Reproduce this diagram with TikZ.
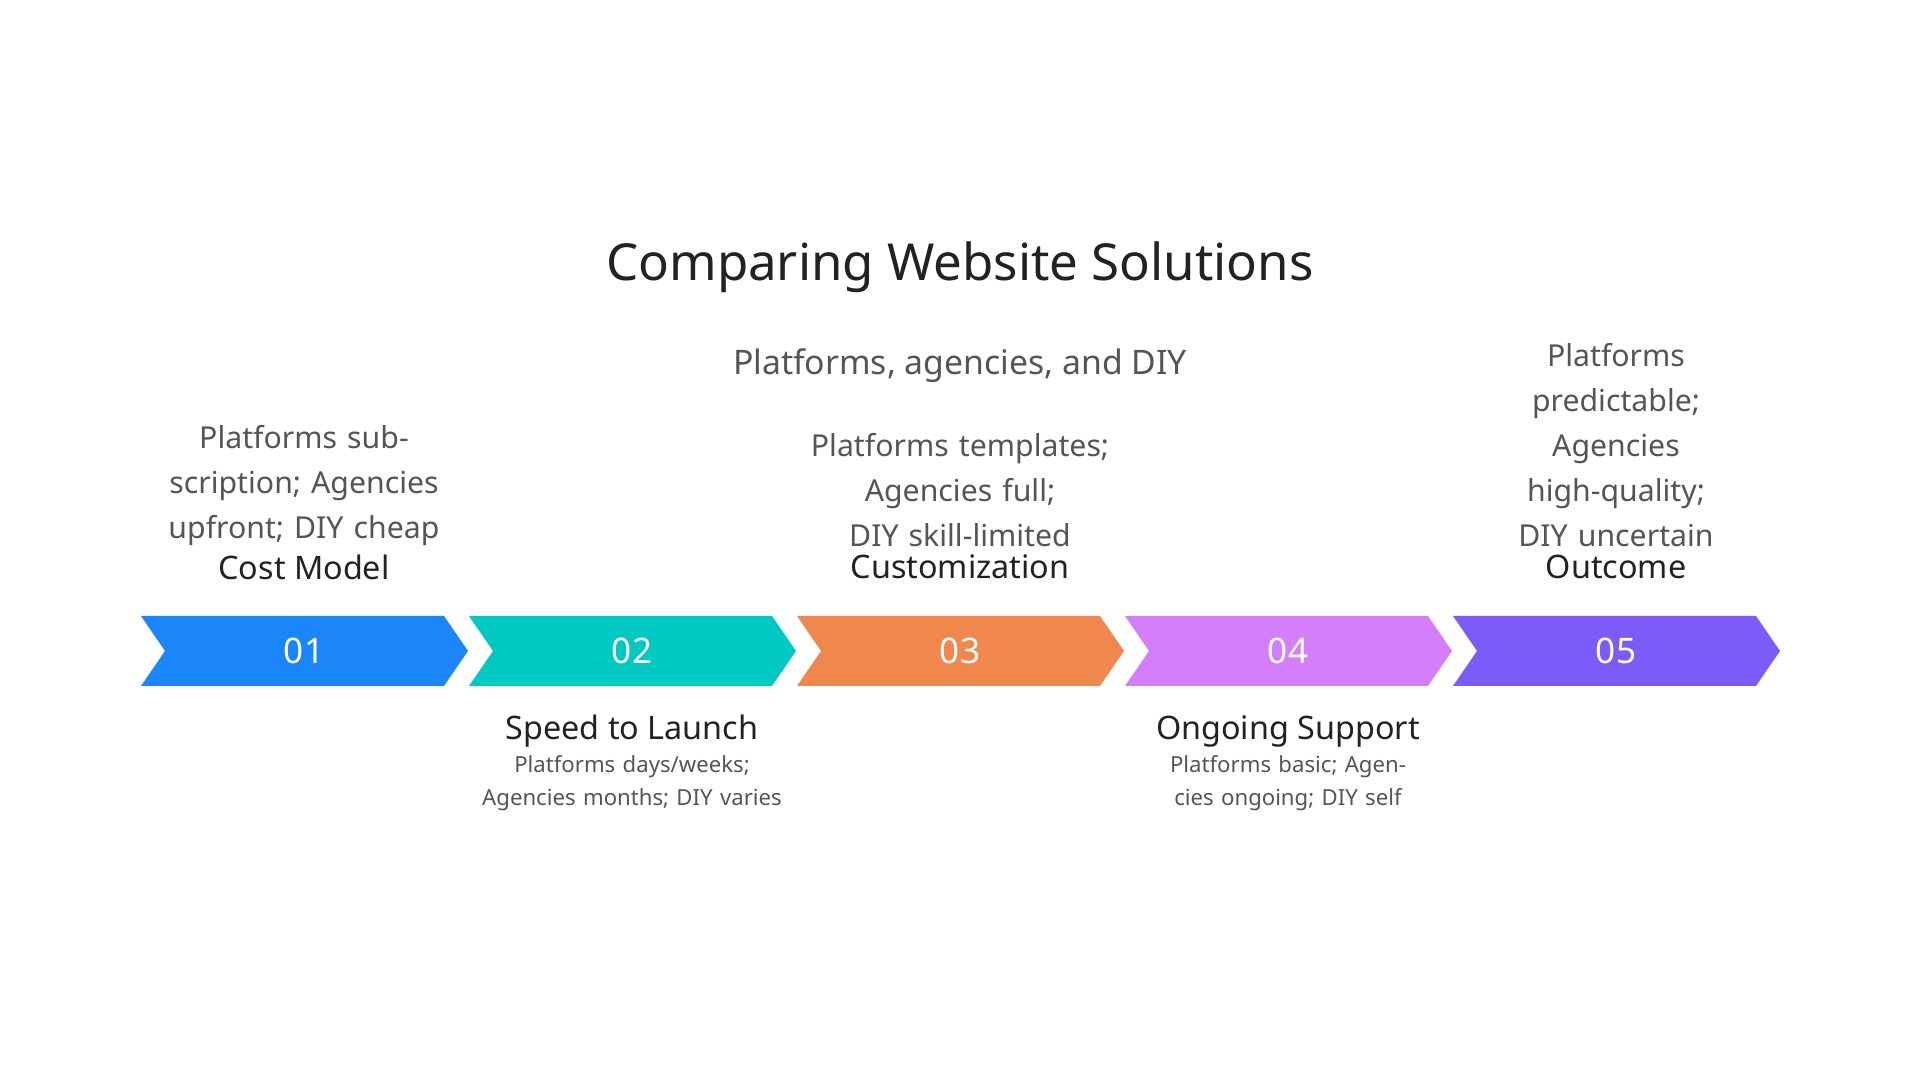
\documentclass[tikz,border=0pt]{standalone}
\usepackage{fontspec}
\setmainfont{Noto Sans}
\usetikzlibrary{positioning}
\definecolor{cblue}{HTML}{1A86FA}
\definecolor{cteal}{HTML}{00C8C2}
\definecolor{corange}{HTML}{F0884D}
\definecolor{cviolet}{HTML}{D57EFB}
\definecolor{cpurple}{HTML}{7B5CF9}
\definecolor{ctext}{HTML}{555555}
\definecolor{chead}{HTML}{222222}
\tikzset{
  step/.style={draw=none},
  num/.style={text=white, font=\fontsize{10}{12}\selectfont\bfseries},
  head/.style={text=chead, font=\fontsize{9.2}{11}\selectfont\bfseries, inner sep=1pt},
  updesc/.style={text=ctext, align=center, text width=3cm, inner sep=1pt,
    font=\fontsize{8.6}{12.8}\selectfont},
  lowdesc/.style={text=ctext, align=center, text width=3.2cm, inner sep=1pt,
    font=\fontsize{6.3}{9.4}\selectfont},
}
\begin{document}
\begin{tikzpicture}[x=0.01cm, y=-0.01cm]
  \useasboundingbox[fill=white] (0,0) rectangle (1920,1080);
  \node[text=chead, font=\fontsize{14.5}{17}\selectfont] (title) at (960,267) {Comparing Website Solutions};
  \node[text=ctext, font=\fontsize{9.6}{12}\selectfont] (sub) at (960,366) {Platforms, agencies, and DIY};

  % chevrons
  \foreach \i/\c in {0/cblue, 1/cteal, 2/corange, 3/cviolet, 4/cpurple} {
    \pgfmathsetmacro{\x}{141+328*\i}
    \fill[\c] (\x,616) -- ++(303,0) -- ++(24,35) -- ++(-24,35) -- ++(-303,0) -- ++(24,-35) -- cycle;
    \pgfmathtruncatemacro{\n}{\i+1}
    \node[num] (n\n) at (\x+163,651) {0\n};
  }

  % upper labels
  \node[head] (cost) at (304,567) {Cost Model};
  \node[updesc, anchor=south] (costd) at (cost.north) {Platforms subscription; Agencies upfront; DIY cheap};
  \node[head] (cust) at (960,567) {Customization};
  \node[updesc, anchor=south] (custd) at (cust.north) {Platforms templates; Agencies full; DIY skill-limited};
  \node[head] (out) at (1616,567) {Outcome};
  \node[updesc, text width=2.4cm, anchor=south] (outd) at (out.north) {Platforms predictable; Agencies high-quality; DIY uncertain};

  % lower labels
  \node[head] (speed) at (632,731) {Speed to Launch};
  \node[lowdesc, anchor=north] (speedd) at (speed.south) {Platforms days/weeks; Agencies months; DIY varies};
  \node[head] (supp) at (1288,731) {Ongoing Support};
  \node[lowdesc, anchor=north] (suppd) at (supp.south) {Platforms basic; Agencies ongoing; DIY self};
\end{tikzpicture}
\end{document}
